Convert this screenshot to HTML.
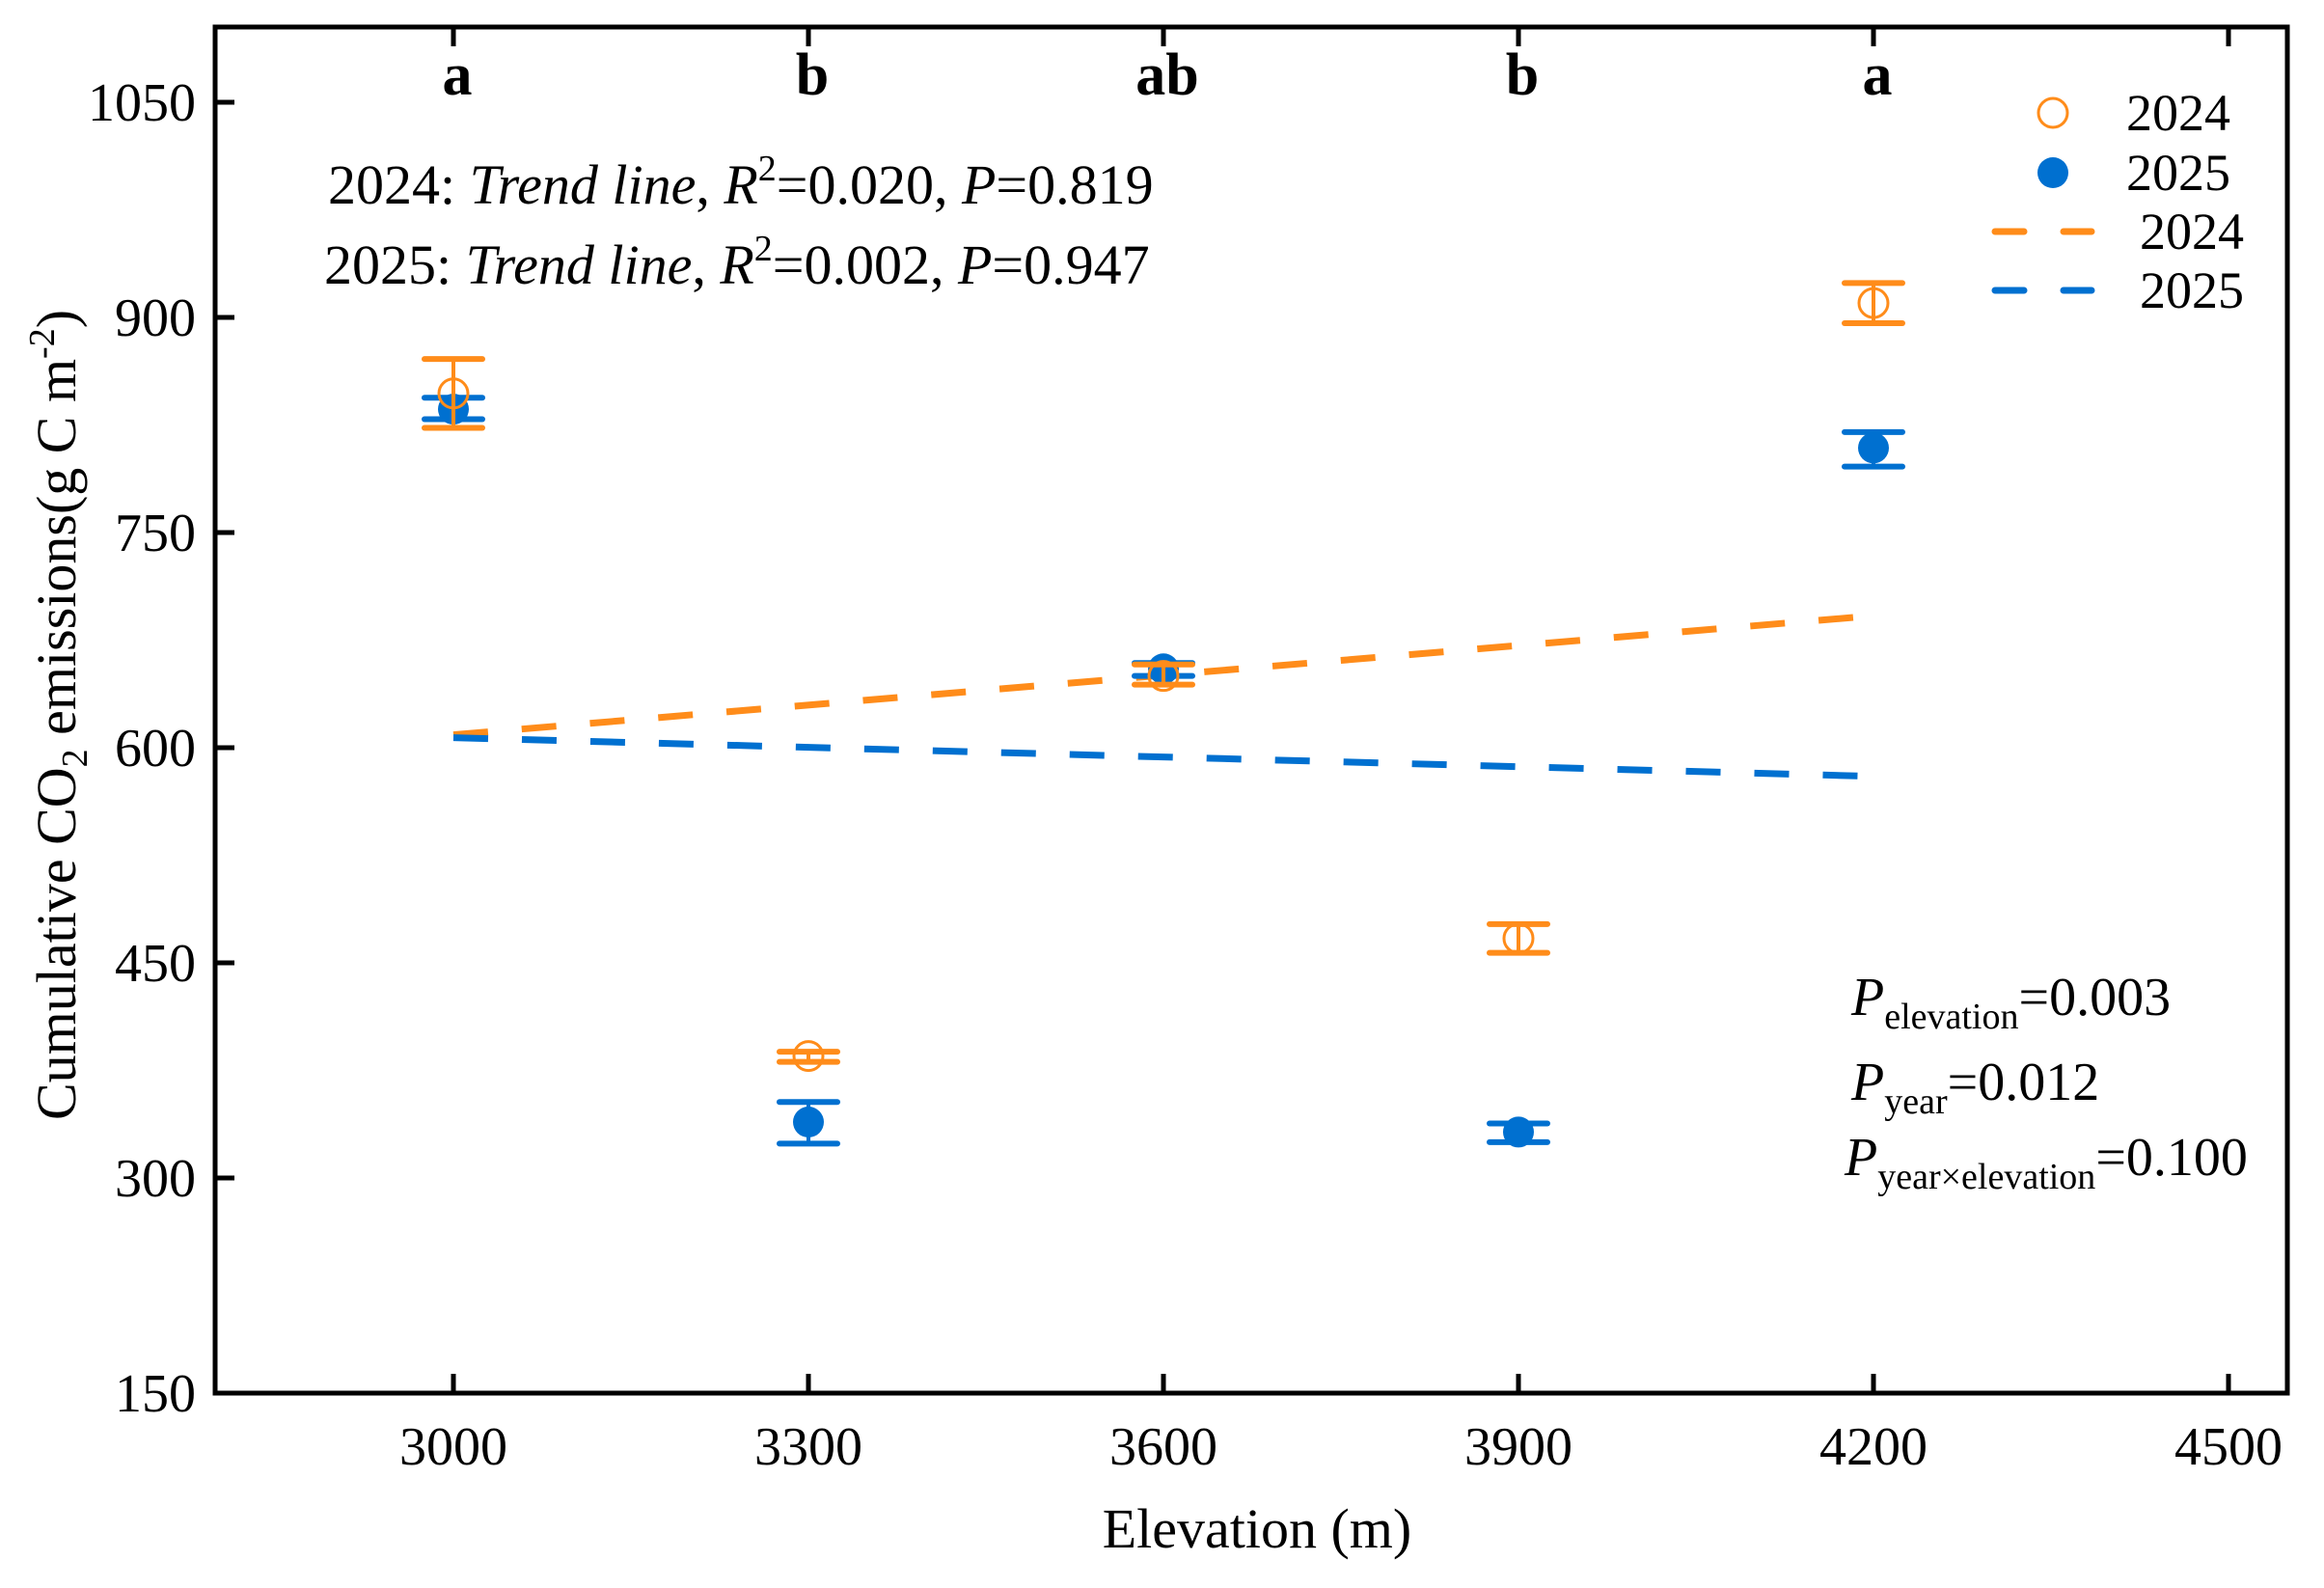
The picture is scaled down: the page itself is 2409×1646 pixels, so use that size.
<!DOCTYPE html>
<html><head><meta charset="utf-8"><style>
html,body{margin:0;padding:0;background:#fff;}
svg{display:block;font-family:"Liberation Serif",serif;}
</style></head><body>
<svg id="chart" width="2409" height="1646" viewBox="0 0 2409 1646" xmlns="http://www.w3.org/2000/svg">
<rect x="223" y="28" width="2148" height="1416" fill="none" stroke="#000" stroke-width="5"/>
<g id="axes"></g>
<g id="marks"></g>
<text transform="translate(78,741) rotate(-90)" text-anchor="middle" font-size="58">Cumulative CO<tspan font-size="38" dy="12">2</tspan><tspan dy="-12"> emissions(g C m</tspan><tspan font-size="38" dy="-22">-2</tspan><tspan dy="22">)</tspan></text>
<text x="1303" y="1604" text-anchor="middle" font-size="58">Elevation (m)</text>
<text x="340" y="211" font-size="58">2024: <tspan font-style="italic">Trend line</tspan>, <tspan font-style="italic">R</tspan><tspan font-size="38" dy="-24">2</tspan><tspan dy="24">=0.020, </tspan><tspan font-style="italic">P</tspan>=0.819</text>
<text x="336" y="294" font-size="58">2025: <tspan font-style="italic">Trend line</tspan>, <tspan font-style="italic">R</tspan><tspan font-size="38" dy="-24">2</tspan><tspan dy="24">=0.002, </tspan><tspan font-style="italic">P</tspan>=0.947</text>
<text x="1919" y="1052" font-size="56"><tspan font-style="italic">P</tspan><tspan font-size="38" dy="14">elevation</tspan><tspan dy="-14">=0.003</tspan></text>
<text x="1919" y="1140" font-size="56"><tspan font-style="italic">P</tspan><tspan font-size="38" dy="14">year</tspan><tspan dy="-14">=0.012</tspan></text>
<text x="1912" y="1218" font-size="56"><tspan font-style="italic">P</tspan><tspan font-size="38" dy="14">year×elevation</tspan><tspan dy="-14">=0.100</tspan></text>
<g>
<circle cx="2128" cy="117" r="15" fill="#fff" stroke="#FF8C1A" stroke-width="3"/>
<text x="2204" y="135" font-size="54">2024</text>
<circle cx="2128" cy="179" r="16" fill="#0070D0"/>
<text x="2204" y="197" font-size="54">2025</text>
<line x1="2068" y1="240" x2="2168" y2="240" stroke="#FF8C1A" stroke-width="7" stroke-linecap="round" stroke-dasharray="30 41"/>
<text x="2218" y="258" font-size="54">2024</text>
<line x1="2068" y1="301" x2="2168" y2="301" stroke="#0070D0" stroke-width="7" stroke-linecap="round" stroke-dasharray="30 41"/>
<text x="2218" y="319" font-size="54">2025</text>
</g>
</svg>
<script>
const elevations = [3000, 3300, 3600, 3900, 4200];
const mean2024 = [847, 385, 650, 467, 910];
const upper2024 = [871, 388, 658, 477, 924];
const lower2024 = [823, 381, 644, 457, 896];
const mean2025 = [836, 339, 655, 332, 809];
const upper2025 = [844, 353, 659, 338, 820];
const lower2025 = [829, 324, 650, 325, 796];
const groupLetters = ["a", "b", "ab", "b", "a"];
const trend2024 = [609, 692];
const trend2025 = [607, 580];
const xTicks = [3000, 3300, 3600, 3900, 4200, 4500];
const yTicks = [150, 300, 450, 600, 750, 900, 1050];

const NS = "http://www.w3.org/2000/svg";
function xs(v){ return 470 + (v - 3000) * (368 / 300); }
function ys(v){ return 1444 - (v - 150) * (223 / 150); }
function mk(tag, attrs, parent, text){
  const e = document.createElementNS(NS, tag);
  for (const k in attrs) e.setAttribute(k, attrs[k]);
  if (text !== undefined) e.textContent = text;
  parent.appendChild(e); return e;
}
const axes = document.getElementById('axes');
const marks = document.getElementById('marks');
xTicks.forEach(t => {
  const l = mk('line', {x1: xs(t), x2: xs(t), y1: 1444, y2: 1424, stroke: '#000', 'stroke-width': 5}, axes);
  
  
  const tx = mk('text', {x: xs(t), y: 1518, 'text-anchor': 'middle', 'font-size': 56}, axes, String(t));
  
  
  const tt = mk('line', {x1: xs(t), x2: xs(t), y1: 28, y2: 48, stroke: '#000', 'stroke-width': 5}, axes);
  
  
});
yTicks.forEach(t => {
  const l = mk('line', {x1: 223, x2: 243, y1: ys(t), y2: ys(t), stroke: '#000', 'stroke-width': 5}, axes);
  
  
  const tx = mk('text', {x: 203, y: ys(t) + 19, 'text-anchor': 'end', 'font-size': 56}, axes, String(t));
  
  
});
groupLetters.forEach((g, i) => {
  const tx = mk('text', {x: xs(elevations[i]) + 4, y: 98, 'text-anchor': 'middle', 'font-size': 62, 'font-weight': 'bold'}, marks, g);
  
  
});
const e0 = elevations[0], e1 = elevations[elevations.length - 1];
const t24 = mk('line', {x1: xs(e0), y1: ys(trend2024[0]), x2: xs(e1), y2: ys(trend2024[1]), stroke: '#FF8C1A', 'stroke-width': 7, 'stroke-dasharray': '36 35'}, marks);


const t25 = mk('line', {x1: xs(e0), y1: ys(trend2025[0]), x2: xs(e1), y2: ys(trend2025[1]), stroke: '#0070D0', 'stroke-width': 7, 'stroke-dasharray': '36 35'}, marks);


function errbar(x, lo, hi, color, name){
  const g = mk('g', {}, marks);
  
  
  mk('line', {x1: x, x2: x, y1: ys(hi), y2: ys(lo), stroke: color, 'stroke-width': 4}, g);
  mk('line', {x1: x - 30, x2: x + 30, y1: ys(hi), y2: ys(hi), stroke: color, 'stroke-width': 6, 'stroke-linecap': 'round'}, g);
  mk('line', {x1: x - 30, x2: x + 30, y1: ys(lo), y2: ys(lo), stroke: color, 'stroke-width': 6, 'stroke-linecap': 'round'}, g);
}
elevations.forEach((e, i) => {
  errbar(xs(e), lower2025[i], upper2025[i], '#0070D0', 'errorbar-2025');
  const c2 = mk('circle', {cx: xs(e), cy: ys(mean2025[i]), r: 16, fill: '#0070D0'}, marks);
  
  
  errbar(xs(e), lower2024[i], upper2024[i], '#FF8C1A', 'errorbar-2024');
  const c1 = mk('circle', {cx: xs(e), cy: ys(mean2024[i]), r: 15, fill: 'none', stroke: '#FF8C1A', 'stroke-width': 3}, marks);
  
  
});
</script>
</body></html>
